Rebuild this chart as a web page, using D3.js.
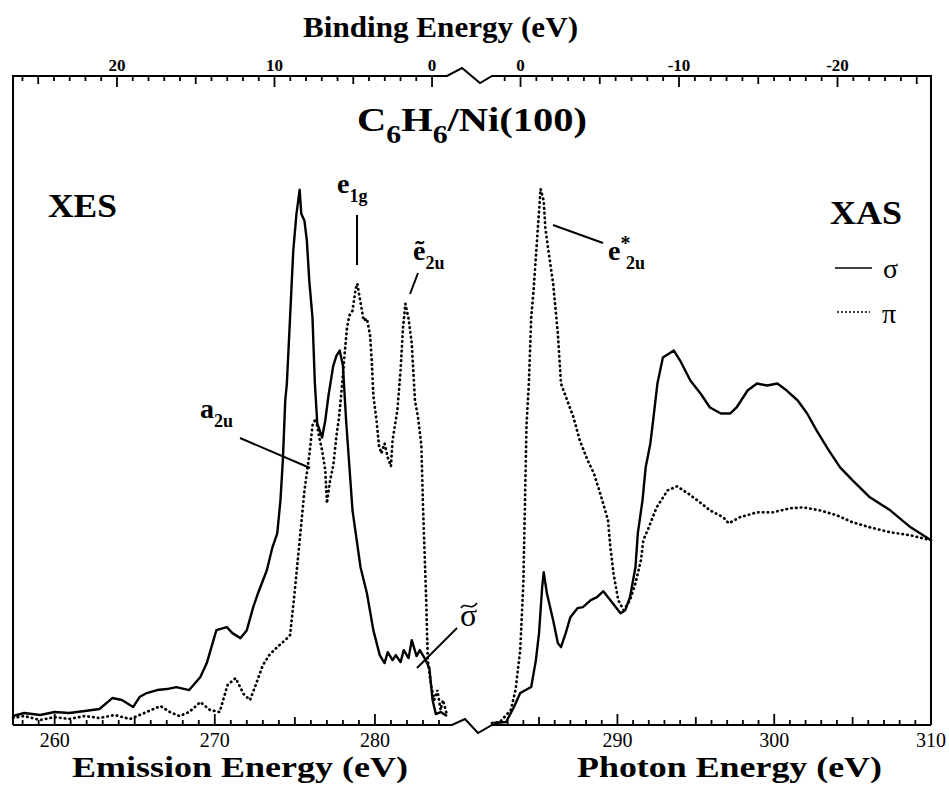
<!DOCTYPE html>
<html>
<head>
<meta charset="utf-8">
<script src="https://cdn.jsdelivr.net/npm/d3@7"></script>
<style>
  body { margin: 0; background: #fff; }
  text { font-family: "Liberation Serif", "Times New Roman", serif; fill: #000; }
</style>
</head>
<body>
<script>
// XES, sigma (solid), emission energy (eV) vs intensity (arb. units)
const xesSigmaE = [257.4, 258.1, 259.1, 260.0, 260.9, 261.9, 262.8, 263.6, 264.2, 264.9, 265.3, 265.75, 266.4, 267.0, 267.6, 268.4, 269.1, 269.5, 270.1, 270.75, 271.1, 271.6, 272.0, 272.4, 272.7, 273.25, 273.6, 273.9, 274.1, 274.25, 274.4, 274.5, 274.7, 274.9, 275.1, 275.3, 275.4, 275.6, 275.75, 275.9, 276.1, 276.25, 276.4, 276.7, 276.9, 277.1, 277.25, 277.4, 277.6, 277.8, 278.0, 278.2, 278.6, 279.1, 279.5, 279.9, 280.3, 280.6, 280.8, 281.1, 281.3, 281.6, 281.8, 282.1, 282.3, 282.6, 282.8, 283.1, 283.4, 283.6, 283.8, 284.1, 284.5];
const xesSigmaI = [9, 12, 10, 13, 12, 14, 16, 27, 25, 18, 28, 32, 35, 36, 38, 35, 48, 62, 95, 98, 92, 87, 95, 118, 132, 155, 178, 192, 225, 265, 325, 342, 408, 475, 512, 536, 512, 505, 485, 445, 408, 342, 302, 288, 305, 330, 345, 360, 370, 375, 360, 305, 215, 158, 132, 95, 70, 62, 73, 65, 70, 63, 75, 67, 85, 69, 75, 67, 57, 25, 11, 13, 9];

// XES, pi (dotted)
const xesPiE = [257.4, 258.1, 259.1, 260.0, 260.9, 261.9, 262.8, 263.75, 264.7, 265.6, 266.6, 267.2, 267.8, 268.4, 269.1, 269.7, 270.3, 270.8, 271.3, 271.8, 272.2, 272.6, 273.0, 273.4, 273.9, 274.4, 274.7, 275.0, 275.3, 275.6, 275.9, 276.1, 276.3, 276.5, 276.7, 276.9, 277.0, 277.2, 277.4, 277.6, 277.75, 277.9, 278.1, 278.25, 278.4, 278.6, 278.8, 278.9, 279.1, 279.3, 279.5, 279.7, 279.8, 279.9, 280.1, 280.25, 280.4, 280.6, 280.8, 281.0, 281.1, 281.4, 281.6, 281.75, 281.9, 282.1, 282.3, 282.5, 282.7, 282.9, 283.0, 283.2, 283.3, 283.5, 283.7, 283.9, 284.1, 284.25, 284.5];
const xesPiI = [7, 9, 5, 8, 6, 9, 7, 10, 6, 12, 19, 13, 9, 13, 23, 15, 13, 40, 47, 31, 25, 42, 60, 70, 78, 85, 90, 135, 185, 235, 270, 300, 307, 290, 275, 255, 222, 245, 260, 290, 307, 332, 370, 397, 410, 415, 437, 442, 423, 405, 407, 390, 365, 330, 305, 280, 272, 282, 268, 259, 285, 315, 355, 397, 422, 407, 382, 325, 307, 280, 220, 125, 65, 40, 25, 35, 15, 25, 10];

// XAS, sigma (solid), photon energy (eV)
const xasSigmaE = [282.1, 282.9, 283.4, 283.8, 284.5, 284.8, 285.0, 285.2, 285.3, 285.5, 285.9, 286.2, 286.4, 286.7, 287.0, 287.45, 287.8, 288.3, 288.7, 289.1, 289.4, 289.9, 290.2, 290.5, 290.8, 291.15, 291.3, 291.6, 291.8, 292.1, 292.3, 292.55, 292.9, 293.6, 294.0, 294.65, 295.3, 295.9, 296.6, 297.2, 297.6, 298.3, 298.9, 299.55, 300.2, 300.8, 301.5, 302.1, 302.7, 303.4, 304.2, 305.0, 306.1, 307.4, 308.7, 310.0];
const xasSigmaI = [2, 3, 18, 32, 38, 65, 92, 138, 153, 132, 105, 82, 78, 92, 108, 117, 118, 125, 128, 134, 128, 118, 112, 115, 128, 158, 192, 225, 258, 282, 308, 342, 368, 375, 365, 345, 332, 318, 312, 312, 318, 335, 342, 340, 342, 335, 325, 312, 295, 277, 258, 245, 228, 215, 198, 185];

// XAS, pi (dotted)
const xasPiE = [282.0, 282.5, 283.2, 283.5, 283.8, 284.0, 284.1, 284.2, 284.35, 284.5, 284.65, 284.9, 285.1, 285.3, 285.4, 285.6, 285.9, 286.2, 286.4, 286.8, 287.2, 287.6, 288.1, 288.5, 288.9, 289.4, 289.55, 289.75, 290.05, 290.4, 290.8, 291.15, 291.5, 291.65, 292.0, 292.5, 293.2, 293.8, 294.5, 295.1, 295.9, 296.75, 297.1, 297.8, 298.9, 299.9, 301.0, 301.85, 302.9, 304.0, 305.0, 306.1, 307.4, 308.7, 310.0];
const xasPiI = [2, 3, 15, 35, 75, 142, 220, 300, 342, 408, 435, 492, 537, 525, 498, 475, 442, 392, 342, 325, 308, 285, 265, 252, 232, 205, 178, 152, 125, 115, 125, 142, 165, 185, 198, 218, 235, 239, 232, 225, 215, 208, 202, 208, 213, 213, 217, 218, 215, 210, 203, 198, 193, 190, 185];

// tick labels
const emissionTicks = [260, 270, 280];
const photonTicks = [290, 300, 310];
const bindingTicksLeft = [20, 10, 0];
const bindingTicksRight = [0, -10, -20];

const W = 949, H = 787;
const svg = d3.select("body").append("svg").attr("width", W).attr("height", H);

// plot frame, with a break between the XES and XAS halves
const fL = 13, fR = 931, fT = 76, fB = 725, breakL = 447, breakR = 492;

const xEm = d3.scaleLinear().domain([257.4, 284.5]).range([fL, breakL]);
const xPh = d3.scaleLinear().domain([282.0, 310.0]).range([breakR, fR]);
const xBeL = d3.scaleLinear().domain([26.6, -0.95]).range([fL, breakL]);
const xBeR = d3.scaleLinear().domain([1.8, -25.9]).range([breakR, fR]);
const y = d3.scaleLinear().domain([0, 650]).range([fB, fT]);

// frame lines
svg.append("path")
  .attr("fill", "none").attr("stroke", "#000").attr("stroke-width", 2)
  .attr("d", `M${fL},${fB}L${fL},${fT}L${breakL},${fT}L${breakL + 15},${fT - 8}L${breakL + 33},${fT + 7}L${breakR},${fT}L${fR},${fT}L${fR},${fB}`);
svg.append("path")
  .attr("fill", "none").attr("stroke", "#000").attr("stroke-width", 2)
  .attr("d", `M${fL},${fB}L${breakL + 5},${fB}L${breakL + 18},${fB - 6}L${breakL + 31},${fB + 8}L${breakR},${fB}L${fR},${fB}`);

// ticks
function tickLen(v) { return v % 10 === 0 ? 11 : (v % 5 === 0 ? 8 : 5); }

function drawTicks(scale, values, yBase, dir) {
  svg.append("g").selectAll("line").data(values).enter().append("line")
    .attr("x1", d => scale(d)).attr("x2", d => scale(d))
    .attr("y1", yBase).attr("y2", d => yBase + dir * tickLen(Math.abs(d)))
    .attr("stroke", "#000").attr("stroke-width", 1.8);
}
drawTicks(xEm, d3.range(258, 285), fB, -1);
drawTicks(xPh, d3.range(283, 311), fB, -1);
drawTicks(xBeL, d3.range(0, 27), fT, 1);
drawTicks(xBeR, d3.range(-25, 2), fT, 1);

function drawTickLabels(scale, values, yPos, size, weight) {
  svg.append("g").selectAll("text").data(values).enter().append("text")
    .attr("x", d => scale(d)).attr("y", yPos)
    .attr("text-anchor", "middle")
    .attr("font-size", size).attr("font-weight", weight)
    .text(d => d < 0 ? "-" + Math.abs(d) : d);
}
drawTickLabels(xEm, emissionTicks, 747, 20, "normal");
drawTickLabels(xPh, photonTicks, 747, 20, "normal");
drawTickLabels(xBeL, bindingTicksLeft, 71, 17, "bold");
drawTickLabels(xBeR, bindingTicksRight, 71, 17, "bold");

// axis titles
function bigText(x, yPos, str, size, len) {
  return svg.append("text").attr("x", x).attr("y", yPos)
    .attr("font-size", size).attr("font-weight", "bold")
    .attr("textLength", len).attr("lengthAdjust", "spacingAndGlyphs")
    .text(str);
}
bigText(303, 37, "Binding Energy (eV)", 29, 275);
bigText(72, 777, "Emission Energy (eV)", 30, 336);
bigText(577, 777, "Photon Energy (eV)", 30, 305);
bigText(48, 217, "XES", 33, 69);
bigText(830, 224, "XAS", 33, 72);

// title C6H6/Ni(100)
const title = svg.append("text").attr("x", 357).attr("y", 131)
  .attr("font-size", 34).attr("font-weight", "bold")
  .attr("textLength", 230).attr("lengthAdjust", "spacingAndGlyphs");
title.append("tspan").text("C");
title.append("tspan").attr("font-size", 25).attr("dy", 12).text("6");
title.append("tspan").attr("dy", -12).text("H");
title.append("tspan").attr("font-size", 25).attr("dy", 12).text("6");
title.append("tspan").attr("dy", -12).text("/Ni(100)");

// curves
const lineEm = (E, I) => d3.line().x(i => xEm(E[i])).y(i => y(I[i]))(d3.range(E.length));
const linePh = (E, I) => d3.line().x(i => xPh(E[i])).y(i => y(I[i]))(d3.range(E.length));

svg.append("path").attr("d", lineEm(xesSigmaE, xesSigmaI))
  .attr("fill", "none").attr("stroke", "#000").attr("stroke-width", 2.4).attr("stroke-linejoin", "round");
svg.append("path").attr("d", lineEm(xesPiE, xesPiI))
  .attr("fill", "none").attr("stroke", "#000").attr("stroke-width", 2.7)
  .attr("stroke-linecap", "round").attr("stroke-dasharray", "0.5,4.3");
svg.append("path").attr("d", linePh(xasSigmaE, xasSigmaI))
  .attr("fill", "none").attr("stroke", "#000").attr("stroke-width", 2.4).attr("stroke-linejoin", "round");
svg.append("path").attr("d", linePh(xasPiE, xasPiI))
  .attr("fill", "none").attr("stroke", "#000").attr("stroke-width", 2.7)
  .attr("stroke-linecap", "round").attr("stroke-dasharray", "0.5,4.3");

// peak labels with leader lines
function leader(x1, y1, x2, y2) {
  svg.append("line").attr("x1", x1).attr("y1", y1).attr("x2", x2).attr("y2", y2)
    .attr("stroke", "#000").attr("stroke-width", 2);
}
function orbital(x, yPos, main, sub) {
  const t = svg.append("text").attr("x", x).attr("y", yPos)
    .attr("font-size", 28).attr("font-weight", "bold");
  t.append("tspan").text(main);
  t.append("tspan").attr("font-size", 18).attr("dy", 9).text(sub);
  return t;
}
orbital(337, 193, "e", "1g");
leader(357, 215, 357, 265);
orbital(413, 260, "ẽ", "2u");
leader(418, 273, 410, 294);
orbital(200, 418, "a", "2u");
leader(240, 438, 310, 468);

// e*2u: asterisk sits above the subscript
const eStar = svg.append("text").attr("x", 608).attr("y", 260)
  .attr("font-size", 28).attr("font-weight", "bold");
eStar.append("tspan").text("e");
eStar.append("tspan").attr("font-size", 20).attr("dy", -10).text("*");
eStar.append("tspan").attr("x", 626).attr("font-size", 18).attr("dy", 19).text("2u");
leader(553, 225, 603, 243);

// sigma with a tilde stroke drawn above it
svg.append("text").attr("x", 460).attr("y", 626).attr("font-size", 32).text("σ");
svg.append("path")
  .attr("d", "M461,608 C465,601 471,612 477,603")
  .attr("fill", "none").attr("stroke", "#000").attr("stroke-width", 1.6);
leader(457, 628, 417, 668);

// legend
svg.append("line").attr("x1", 835).attr("x2", 872).attr("y1", 268).attr("y2", 268)
  .attr("stroke", "#000").attr("stroke-width", 1.6);
svg.append("text").attr("x", 883).attr("y", 278).attr("font-size", 28).text("σ");
svg.append("line").attr("x1", 837).attr("x2", 870).attr("y1", 312).attr("y2", 312)
  .attr("stroke", "#000").attr("stroke-width", 1.6).attr("stroke-dasharray", "2,2");
svg.append("text").attr("x", 882).attr("y", 323).attr("font-size", 28).text("π");
</script>
</body>
</html>
